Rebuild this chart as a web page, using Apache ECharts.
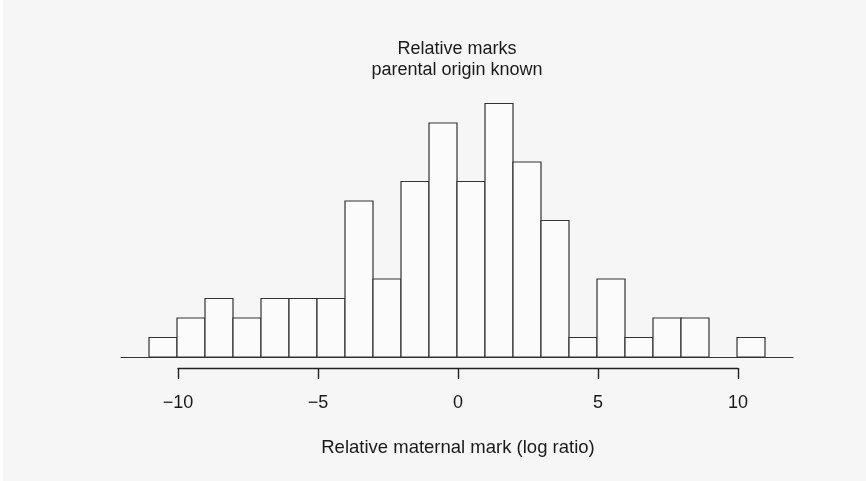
<!DOCTYPE html>
<html>
<head>
<meta charset="utf-8">
<script src="https://cdn.jsdelivr.net/npm/echarts@6/dist/echarts.min.js"></script>
<style>
html,body{margin:0;padding:0;background:#ffffff;}
#chart{width:866px;height:481px;}
</style>
</head>
<body>
<div id="chart"></div>
<script>
// Histogram bins (width 1) and counts
var binStarts = [-11,-10,-9,-8,-7,-6,-5,-4,-3,-2,-1,0,1,2,3,4,5,6,7,8,9,10];
var counts    = [1,2,3,2,3,3,3,8,4,9,12,9,13,10,7,1,4,1,2,2,0,1];
var xTickValues = [-10,-5,0,5,10];
var titleLines = ['Relative marks','parental origin known'];
var xAxisTitle = 'Relative maternal mark (log ratio)';

var FONT = '"Liberation Sans", Arial, Helvetica, sans-serif';
var data = binStarts.map(function(s,i){ return [s, counts[i]]; });

var chart = echarts.init(document.getElementById('chart'), null, {renderer:'canvas'});
chart.setOption({
  backgroundColor:'#f6f6f6',
  animation:false,
  title:{
    text:titleLines.join('\n'),
    left:457, top:39, textAlign:'center', padding:0,
    textStyle:{fontFamily:FONT, fontSize:18, fontWeight:'normal', color:'#1a1a1a', lineHeight:21}
  },
  graphic:[{type:'rect', shape:{x:0,y:0,width:3,height:481}, style:{fill:'#ffffff'}, silent:true}],
  grid:[
    {left:121, right:73, top:103.5, bottom:124},
    {left:178, right:128, top:103.5, bottom:124}
  ],
  xAxis:[
    {type:'value', gridIndex:0, min:-12, max:12, interval:1,
     axisLine:{show:true, onZero:false, lineStyle:{color:'#333', width:1.2}},
     axisTick:{show:false}, axisLabel:{show:false}, splitLine:{show:false}},
    {type:'value', gridIndex:1, min:-10, max:10, interval:5, offset:11,
     axisLine:{show:true, onZero:false, lineStyle:{color:'#222', width:1.4}},
     axisTick:{show:true, length:11, lineStyle:{color:'#222', width:1.4}},
     axisLabel:{show:true, margin:26, fontFamily:FONT, fontSize:18, color:'#1a1a1a',
       formatter:function(v){ return xTickValues.indexOf(v)>=0 ? String(v).replace('-','\u2212') : ''; }},
     splitLine:{show:false},
     name:xAxisTitle, nameLocation:'middle', nameGap:70,
     nameTextStyle:{fontFamily:FONT, fontSize:18.5, color:'#1a1a1a'}}
  ],
  yAxis:[
    {type:'value', gridIndex:0, min:0, max:13, show:false, splitLine:{show:false}},
    {type:'value', gridIndex:1, min:0, max:13, show:false, splitLine:{show:false}}
  ],
  series:[{
    type:'custom', xAxisIndex:0, yAxisIndex:0, data:data,
    renderItem:function(params, api){
      var s = api.value(0), c = api.value(1);
      if (c <= 0) return null;
      var p0 = api.coord([s, c]);
      var p1 = api.coord([s+1, 0]);
      return {type:'rect', shape:{x:p0[0], y:p0[1], width:p1[0]-p0[0], height:p1[1]-p0[1]},
              style:{fill:'#fbfbfb', stroke:'#333', lineWidth:1.2}};
    }
  }]
});
</script>
</body>
</html>
